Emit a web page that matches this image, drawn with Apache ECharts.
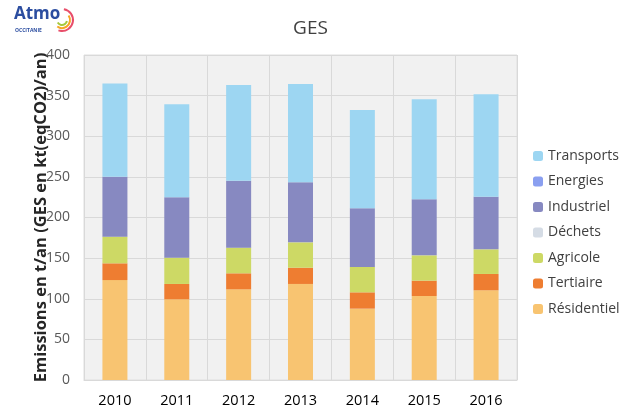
<!DOCTYPE html>
<html>
<head>
<meta charset="utf-8">
<script src="https://cdn.jsdelivr.net/npm/echarts@6/dist/echarts.min.js"></script>
<style>
  html, body { margin: 0; padding: 0; background: #fff; }
  #chart { width: 621px; height: 412px; }
</style>
</head>
<body>
<div id="chart"></div>
<script>
// données (kt eqCO2 / an)
const years = ['2010', '2011', '2012', '2013', '2014', '2015', '2016']
const residentiel = [123, 99.3, 111.6, 118.2, 87.8, 103.4, 110.4]
const tertiaire = [20.6, 18.9, 19.7, 20, 20.1, 18.9, 20.1]
const agricole = [32.8, 32.4, 31.6, 31.2, 31.2, 31.1, 30.3]
const dechets = [0, 0, 0, 0, 0, 0, 0]
const industriel = [73.8, 74.2, 82.4, 73.9, 72.2, 69, 64.8]
const energies = [0, 0, 0, 0, 0, 0, 0]
const transports = [114.8, 114.5, 117.7, 121, 121, 123, 126]
const yTicks = [0, 50, 100, 150, 200, 250, 300, 350, 400]

const font = '"Open Sans", "Noto Sans", sans-serif'

const chart = echarts.init(document.getElementById('chart'))

const makeSeries = (name, data, color) => ({
  name: name,
  type: 'bar',
  stack: 'ges',
  data: data,
  barWidth: 25,
  itemStyle: { color: color },
  emphasis: { disabled: true }
})

const option = {
  animation: false,
  title: {
    text: 'GES',
    left: 'center',
    top: 14,
    textStyle: { fontFamily: font, fontSize: 19, fontWeight: 'normal', color: '#404040' }
  },
  graphic: [
    {
      type: 'text',
      left: 14,
      top: 6,
      style: { text: 'Atmo', fontFamily: font, fontSize: 17, fontWeight: 'bold', fill: '#2b4da0' }
    },
    {
      type: 'text',
      left: 15,
      top: 28,
      style: { text: 'OCCITANIE', fontFamily: font, fontSize: 5, fontWeight: 'bold', fill: '#2b4da0' }
    },
    {
      type: 'arc',
      shape: { cx: 62, cy: 20, r: 11, startAngle: -1.4, endAngle: 1.9 },
      style: { stroke: '#e84e6a', lineWidth: 2, fill: null }
    },
    {
      type: 'arc',
      shape: { cx: 62, cy: 20, r: 8, startAngle: -0.6, endAngle: 2.2 },
      style: { stroke: '#f5a623', lineWidth: 2, fill: null }
    },
    {
      type: 'arc',
      shape: { cx: 62, cy: 20, r: 5, startAngle: 0.2, endAngle: 2.6 },
      style: { stroke: '#a5c93c', lineWidth: 2, fill: null }
    }
  ],
  legend: {
    orient: 'vertical',
    left: 528,
    top: 144,
    itemWidth: 10,
    itemHeight: 10,
    itemGap: 11.5,
    data: ['Transports', 'Energies', 'Industriel', 'Déchets', 'Agricole', 'Tertiaire', 'Résidentiel'],
    textStyle: { fontFamily: font, fontSize: 14, color: '#404040' }
  },
  grid: {
    left: 84,
    right: 104,
    top: 55,
    bottom: 32,
    show: true,
    backgroundColor: '#f1f1f1',
    borderColor: '#dedede',
    borderWidth: 1
  },
  xAxis: {
    type: 'category',
    data: years,
    axisTick: { show: false },
    axisLine: { lineStyle: { color: '#d9d9d9' } },
    splitLine: { show: true, lineStyle: { color: '#d9d9d9' } },
    axisLabel: { fontFamily: font, fontSize: 14.5, color: '#000', margin: 13 }
  },
  yAxis: {
    type: 'value',
    min: yTicks[0],
    max: yTicks[yTicks.length - 1],
    interval: 50,
    name: 'Emissions en t/an (GES en kt(eqCO2)/an)',
    nameLocation: 'middle',
    nameGap: 34,
    nameMoveOverlap: false,
    nameTextStyle: { fontFamily: font, fontSize: 16.5, fontWeight: 'bold', color: '#262626' },
    axisLine: { show: false },
    axisTick: { show: false },
    splitLine: { lineStyle: { color: '#d9d9d9' } },
    axisLabel: { fontFamily: font, fontSize: 14, color: '#595959', margin: 14 }
  },
  series: [
    makeSeries('Résidentiel', residentiel, '#f8c471'),
    makeSeries('Tertiaire', tertiaire, '#ee7d31'),
    makeSeries('Agricole', agricole, '#cdd965'),
    makeSeries('Déchets', dechets, '#d5dce5'),
    makeSeries('Industriel', industriel, '#8789c1'),
    makeSeries('Energies', energies, '#8a9ff0'),
    makeSeries('Transports', transports, '#9dd6f2')
  ]
}

chart.setOption(option)
</script>
</body>
</html>
